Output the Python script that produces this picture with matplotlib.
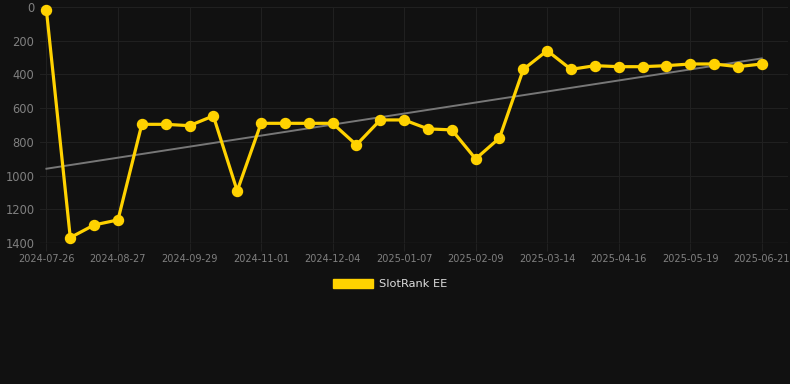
import numpy as np
import matplotlib.pyplot as plt

# Datos del gráfico
tick_labels = ['2024-07-26', '2024-08-27', '2024-09-29', '2024-11-01', '2024-12-04',
               '2025-01-07', '2025-02-09', '2025-03-14', '2025-04-16', '2025-05-19',
               '2025-06-21']
rank_values = [20, 1368, 1293, 1263, 696, 696, 704, 646, 1091, 690,
               690, 690, 690, 818, 670, 670, 723, 729, 901, 777,
               370, 259, 370, 348, 354, 354, 348, 338, 338, 354, 338]
series_name = 'SlotRank EE'

bg = '#111111'
grid_color = '#202020'
label_color = '#808080'
gold = '#FFD200'

fig = plt.figure(figsize=(7.9, 3.84), dpi=100, facecolor=bg)
ax = fig.add_axes([40 / 790, 1 - 243 / 384, 748 / 790, 236 / 384], facecolor=bg)

x = np.arange(len(rank_values))

# Línea de tendencia (regresión lineal)
coef = np.polyfit(x, rank_values, 1)
ax.plot(x, np.polyval(coef, x), color='#777777', linewidth=1.4, zorder=2)

# Serie principal
ax.plot(x, rank_values, color=gold, linewidth=2.3, marker='o', markersize=7.2,
        zorder=3, clip_on=False, label=series_name)

ax.set_xlim(-0.27, 31.1)
ax.set_ylim(1400, 0)
ax.set_yticks(range(0, 1401, 200))
ax.set_xticks(x[::3])
ax.set_xticklabels(tick_labels)

ax.grid(True, color=grid_color, linewidth=0.8)
for s in ax.spines.values():
    s.set_visible(False)
ax.axhline(1400, color='#2a2a2a', linewidth=1, zorder=1)

ax.tick_params(axis='y', length=0, pad=4, labelsize=8.3, labelcolor=label_color)
ax.tick_params(axis='x', length=6, color=grid_color, pad=2, labelsize=7, labelcolor=label_color)

# Leyenda
leg = fig.legend(handles=[plt.Rectangle((0, 0), 1, 1, color=gold)], labels=[series_name],
                 loc='center', bbox_to_anchor=(390 / 790, 1 - 284 / 384), frameon=False,
                 handlelength=3.5, handleheight=0.95, handletextpad=0.55, fontsize=8.2)
for t in leg.get_texts():
    t.set_color('#dddddd')

fig.savefig('out.png', dpi=100, facecolor=bg)
